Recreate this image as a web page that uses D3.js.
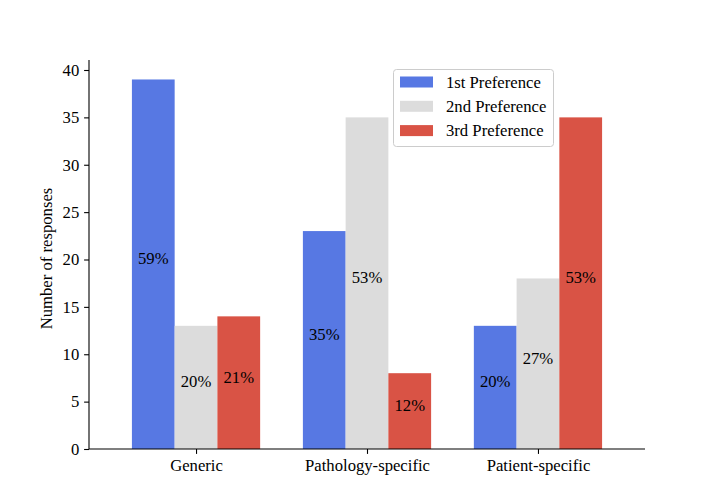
<!DOCTYPE html>
<html><head><meta charset="utf-8">
<script src="https://cdn.jsdelivr.net/npm/d3@7"></script>
<style>body{margin:0;background:#fff}svg{display:block}text{font-family:"Liberation Serif","Times New Roman",serif;}</style>
</head><body><svg id="c" width="717" height="504"></svg>
<script>
const categories = ["Generic", "Pathology-specific", "Patient-specific"];
const seriesNames = ["1st Preference", "2nd Preference", "3rd Preference"];
const values = [
  [39, 23, 13],
  [13, 35, 18],
  [14, 8, 35]
];
const percents = [
  ["59%", "35%", "20%"],
  ["20%", "53%", "27%"],
  ["21%", "12%", "53%"]
];
const yTicks = [0, 5, 10, 15, 20, 25, 30, 35, 40];
const colors = ["#5778e3", "#dcdcdc", "#d95345"];

const FS = 16.67;
const svg = d3.select("#c");
const L = 89, R = 645, T = 60, B = 449;
const x = d3.scaleLinear().domain([-0.626, 2.626]).range([L, R]);
const y = d3.scaleLinear().domain([0, 40]).range([B, 70]);
const bw = 0.25;

const g = svg.append("g");
seriesNames.forEach((s, si) => {
  const off = (si - 1) * bw;
  g.selectAll(null).data(values[si]).enter().append("rect")
    .attr("x", (d, i) => x(i + off - bw / 2))
    .attr("width", (d, i) => x(i + off + bw / 2) - x(i + off - bw / 2))
    .attr("y", d => y(d))
    .attr("height", d => y(0) - y(d))
    .attr("fill", colors[si]);
  g.selectAll(null).data(values[si]).enter().append("text")
    .attr("x", (d, i) => x(i + off))
    .attr("y", d => y(d / 2))
    .attr("text-anchor", "middle")
    .attr("font-size", FS)
    .text((d, i) => percents[si][i]);
});

// axes
const yAxis = d3.axisLeft(y).tickValues(yTicks).tickSize(4.9).tickPadding(4.9);
const ya = svg.append("g").attr("transform", `translate(${L},0)`).call(yAxis);
ya.select(".domain").attr("d", `M0,${T}V${B}`);
const xAxis = d3.axisBottom(x).tickValues([0, 1, 2]).tickFormat(i => categories[i]).tickSize(4.9).tickPadding(4.9);
const xa = svg.append("g").attr("transform", `translate(0,${B})`).call(xAxis);
xa.select(".domain").attr("d", `M${L},0H${R}`);
[ya, xa].forEach(a => {
  a.selectAll("text").attr("font-size", FS).attr("fill", "#000");
  a.selectAll("line").attr("stroke", "#000").attr("stroke-width", 1.1);
  a.select(".domain").attr("stroke", "#000").attr("stroke-width", 1.1);
});

svg.append("text")
  .attr("transform", `translate(52,${(T + B) / 2 + 4}) rotate(-90)`)
  .attr("text-anchor", "middle")
  .attr("font-size", FS)
  .text("Number of responses");

// legend
const lg = svg.append("g");
lg.append("rect").attr("x", 393.5).attr("y", 69.5).attr("width", 160).attr("height", 77)
  .attr("rx", 3).attr("fill", "#fff").attr("fill-opacity", 0.8).attr("stroke", "#cccccc");
seriesNames.forEach((s, si) => {
  const cy = 82 + si * 24.3;
  lg.append("rect").attr("x", 400).attr("y", cy - 5.5).attr("width", 33).attr("height", 11).attr("fill", colors[si]);
  lg.append("text").attr("x", 446).attr("y", cy).attr("dy", "0.35em").attr("font-size", FS).text(s);
});
</script></body></html>
